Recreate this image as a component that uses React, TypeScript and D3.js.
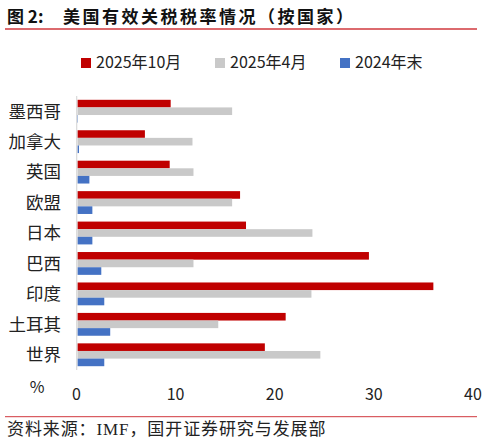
import { useEffect, useRef } from "react";
import * as d3 from "d3";

const W = 493;
const H = 443;

const categories = ["墨西哥", "加拿大", "英国", "欧盟", "日本", "巴西", "印度", "土耳其", "世界"];
const seriesNames = ["2025年10月", "2025年4月", "2024年末"];
const oct2025 = [9.4, 6.8, 9.3, 16.4, 17.0, 29.4, 35.9, 21.0, 18.9];
const apr2025 = [15.6, 11.6, 11.7, 15.6, 23.7, 11.7, 23.6, 14.2, 24.5];
const end2024 = [0.05, 0.15, 1.2, 1.5, 1.5, 2.4, 2.7, 3.3, 2.7];
const colors = ["#c00000", "#c9c9c9", "#4472c4"];
const xTicks = [0, 10, 20, 30, 40];

const CJK = "'Noto Sans CJK SC', 'Noto Sans', sans-serif";

export default function App() {
  const svgRef = useRef<SVGSVGElement>(null);

  useEffect(() => {
    if (!svgRef.current) return;
    const svg = d3.select(svgRef.current);
    svg.selectAll("*").remove();

    // title
    svg
      .append("text")
      .attr("x", 7)
      .attr("y", 23)
      .attr("font-family", CJK)
      .attr("font-size", 17)
      .attr("font-weight", "bold")
      .attr("fill", "#111")
      .text("图 2:");
    svg
      .append("text")
      .attr("x", 63)
      .attr("y", 23)
      .attr("font-family", CJK)
      .attr("font-size", 17)
      .attr("font-weight", "bold")
      .attr("letter-spacing", 2.5)
      .attr("fill", "#111")
      .text("美国有效关税税率情况（按国家）");
    svg
      .append("line")
      .attr("x1", 5)
      .attr("x2", 477)
      .attr("y1", 29)
      .attr("y2", 29)
      .attr("stroke", "#d0383e")
      .attr("stroke-width", 1.5);

    // legend
    const legendX = [81, 215, 340];
    seriesNames.forEach((name, i) => {
      const g = svg.append("g").attr("transform", `translate(${legendX[i]},58)`);
      g.append("rect").attr("width", 10).attr("height", 10).attr("fill", colors[i]);
      g.append("text")
        .attr("x", 15)
        .attr("y", 10)
        .attr("font-family", CJK)
        .attr("font-size", 16)
        .attr("fill", "#222")
        .text(name);
    });

    const x = d3.scaleLinear().domain([0, 40]).range([77.5, 474]);
    const y = d3
      .scaleBand<string>()
      .domain(categories)
      .range([96, 370])
      .paddingInner(0.25)
      .paddingOuter(0.125);
    const ySub = d3.scaleBand<number>().domain([0, 1, 2]).range([0, y.bandwidth()]);

    const series = [oct2025, apr2025, end2024];
    categories.forEach((c, ci) => {
      series.forEach((vals, si) => {
        svg
          .append("rect")
          .attr("x", x(0))
          .attr("y", (y(c) ?? 0) + (ySub(si) ?? 0))
          .attr("width", Math.max(0, x(vals[ci]) - x(0)))
          .attr("height", ySub.bandwidth())
          .attr("fill", colors[si]);
      });
    });

    // vertical axis line
    svg
      .append("line")
      .attr("x1", 76.7)
      .attr("x2", 76.7)
      .attr("y1", 96)
      .attr("y2", 370)
      .attr("stroke", "#d9d9d9")
      .attr("stroke-width", 1.2);

    // category labels
    svg
      .append("g")
      .selectAll("text")
      .data(categories)
      .join("text")
      .attr("x", 61)
      .attr("y", (d) => (y(d) ?? 0) + y.bandwidth() / 2)
      .attr("dy", "0.36em")
      .attr("text-anchor", "end")
      .attr("font-family", CJK)
      .attr("font-size", 17.5)
      .attr("fill", "#222")
      .text((d) => d);

    // x tick labels
    svg
      .append("g")
      .selectAll("text")
      .data(xTicks)
      .join("text")
      .attr("x", (d) => x(d) - 1)
      .attr("y", 394)
      .attr("dy", "0.36em")
      .attr("text-anchor", "middle")
      .attr("font-family", CJK)
      .attr("font-size", 16)
      .attr("fill", "#222")
      .text((d) => String(d));

    svg
      .append("text")
      .attr("x", 37)
      .attr("y", 387)
      .attr("dy", "0.36em")
      .attr("text-anchor", "middle")
      .attr("font-family", CJK)
      .attr("font-size", 16)
      .attr("fill", "#222")
      .text("%");

    // footer
    svg
      .append("line")
      .attr("x1", 5)
      .attr("x2", 477)
      .attr("y1", 416.7)
      .attr("y2", 416.7)
      .attr("stroke", "#d0383e")
      .attr("stroke-width", 1);
    svg
      .append("text")
      .attr("x", 7)
      .attr("y", 435)
      .attr("font-family", "'Liberation Serif', 'Noto Sans CJK SC', serif")
      .attr("font-size", 17)
      .attr("letter-spacing", 0.9)
      .attr("fill", "#222")
      .text("资料来源：IMF，国开证券研究与发展部");
  }, []);

  return (
    <svg
      ref={svgRef}
      width={W}
      height={H}
      viewBox={`0 0 ${W} ${H}`}
      style={{ position: "absolute", left: 0, top: 0, background: "#fff" }}
    />
  );
}
